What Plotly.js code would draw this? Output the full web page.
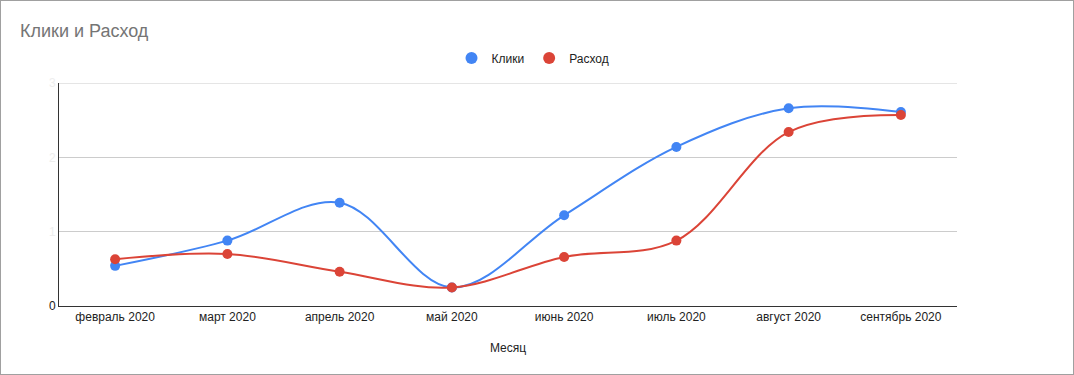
<!DOCTYPE html>
<html><head><meta charset="utf-8">
<script src="https://cdn.plot.ly/plotly-3.0.1.min.js"></script>
<style>
html,body{margin:0;padding:0;background:#fff;}
#frame{width:1072px;height:373px;border:1px solid #a0a0a0;}
#chart{width:1072px;height:373px;}
</style></head>
<body><div id="frame"><div id="chart"></div></div>
<script>
const months = ["февраль 2020","март 2020","апрель 2020","май 2020","июнь 2020","июль 2020","август 2020","сентябрь 2020"];
const clicks = [0.54, 0.88, 1.39, 0.25, 1.22, 2.14, 2.66, 2.61];
const spend  = [0.63, 0.70, 0.46, 0.25, 0.66, 0.88, 2.34, 2.57];
const yTickVals = [0, 1, 2, 3];
const yTickText = ["0", "<span style='color:#eeeeee'>1</span>", "<span style='color:#eeeeee'>2</span>", "<span style='color:#eeeeee'>3</span>"];

const font = "Arial, 'Liberation Sans', sans-serif";
const blue = "#4285F4", red = "#DB4437";
const traces = [
  {x: months, y: clicks, name: "Клики", type: "scatter", mode: "lines+markers", showlegend: false,
   line: {color: blue, width: 2, shape: "spline", smoothing: 1},
   marker: {color: blue, size: 10}},
  {x: months, y: spend, name: "Расход", type: "scatter", mode: "lines+markers", showlegend: false,
   line: {color: red, width: 2, shape: "spline", smoothing: 1},
   marker: {color: red, size: 10}},
  {x: [months[0]], y: [null], name: "Клики", type: "scatter", mode: "markers",
   marker: {color: blue, size: 12}},
  {x: [months[0]], y: [null], name: "Расход", type: "scatter", mode: "markers",
   marker: {color: red, size: 12}}
];
const layout = {
  width: 1072, height: 373,
  margin: {l: 58, r: 116, t: 82, b: 68},
  paper_bgcolor: "#fff", plot_bgcolor: "#fff",
  font: {family: font, size: 12, color: "#222"},
  title: {text: "Клики и Расход", x: 19/1072, xref: "container", xanchor: "left",
          y: 1 - 30/373, yref: "container", yanchor: "middle",
          font: {family: font, size: 18, color: "#757575"}},
  showlegend: true,
  legend: {orientation: "h", x: 0.5 + 25/898, xref: "paper", xanchor: "center", y: 1 + 25/223, yanchor: "middle",
           font: {family: font, size: 12, color: "#222"}, itemwidth: 30, itemclick: false},
  shapes: [{type: "line", xref: "paper", yref: "y", x0: 0, x1: 1, y0: 3, y1: 3,
            line: {color: "#cccccc", width: 1}, layer: "below"}],
  xaxis: {type: "category", range: [-0.5, 7.5], showgrid: false, zeroline: false,
          showline: true, linecolor: "#333", linewidth: 1, ticks: "",
          tickfont: {family: font, size: 12, color: "#222"},
          title: {text: "Месяц", standoff: 20, font: {family: font, size: 12, color: "#222"}}},
  yaxis: {range: [0, 3], tickvals: yTickVals, ticktext: yTickText, showgrid: true, gridcolor: "#cccccc",
          zeroline: false, showline: true, linecolor: "#333", linewidth: 1, ticks: "",
          tickfont: {family: font, size: 12, color: "#222"}}
};
Plotly.newPlot("chart", traces, layout, {displayModeBar: false, staticPlot: true});
</script></body></html>
